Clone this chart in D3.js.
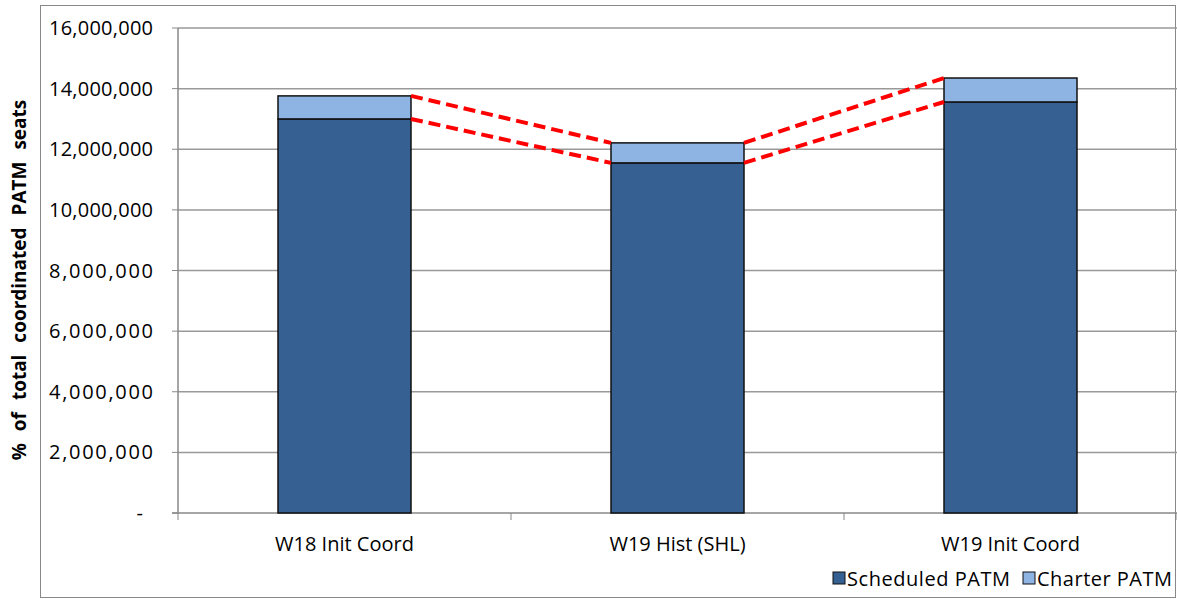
<!DOCTYPE html><html><head><meta charset="utf-8"><script src="https://cdn.jsdelivr.net/npm/d3@7"></script>
<style>body{margin:0;background:#fff}text{font-family:"Open Sans","Liberation Sans",sans-serif}</style></head><body>
<svg id="c" width="1177" height="599"></svg>
<script>
const categories=["W18 Init Coord","W19 Hist (SHL)","W19 Init Coord"];
const scheduled=[13000000,11550000,13560000];
const charter=[760000,660000,790000];
const yTicks=[0,2000000,4000000,6000000,8000000,10000000,12000000,14000000,16000000];
const seriesNames=["Scheduled PATM","Charter PATM"];
const colors=["#366092","#8eb4e3"];
const svg=d3.select("#c");
const L=178,R=1177,T=28,B=513;
svg.append("rect").attr("x",40.5).attr("y",5.5).attr("width",1135).attr("height",592).attr("fill","none").attr("stroke","#888");
const y=d3.scaleLinear().domain([0,16000000]).range([B,T]);
const fmt=d3.format(",");
yTicks.forEach(t=>{
 svg.append("line").attr("x1",t?L:L-6).attr("x2",R).attr("y1",y(t)).attr("y2",y(t)).attr("stroke",t?"#999":"#888").attr("stroke-width",1.5);
 svg.append("line").attr("x1",L-6).attr("x2",L).attr("y1",y(t)).attr("y2",y(t)).attr("stroke","#888");
 svg.append("text").attr("x",t?153:143).attr("y",y(t)+7).attr("text-anchor","end").attr("font-size",20).attr("textLength",t?104:null).text(t?fmt(t):"-");
});
svg.append("line").attr("x1",L).attr("x2",L).attr("y1",T).attr("y2",B).attr("stroke","#888").attr("stroke-width",1.5);
const step=(R-L)/3;
[0,1,2,3].forEach(i=>svg.append("line").attr("x1",L+i*step).attr("x2",L+i*step).attr("y1",B).attr("y2",B+7).attr("stroke","#888"));
categories.forEach((c,i)=>{
 const cx=L+step*(i+0.5), w=133;
 svg.append("rect").attr("x",cx-w/2).attr("width",w).attr("y",y(scheduled[i])).attr("height",B-y(scheduled[i])).attr("fill",colors[0]).attr("stroke","#111").attr("stroke-width",1.5);
 svg.append("rect").attr("x",cx-w/2).attr("width",w).attr("y",y(scheduled[i]+charter[i])).attr("height",y(scheduled[i])-y(scheduled[i]+charter[i])).attr("fill",colors[1]).attr("stroke","#111").attr("stroke-width",1.5);
 svg.append("text").attr("x",cx).attr("y",551).attr("text-anchor","middle").attr("font-size",20).text(c);
});
for(let i=0;i<2;i++){
 const x1=L+step*(i+0.5)+66.5,x2=L+step*(i+1.5)-66.5;
 [[scheduled[i]+charter[i],scheduled[i+1]+charter[i+1]],[scheduled[i],scheduled[i+1]]].forEach(([a,b])=>
  svg.append("line").attr("x1",x1).attr("x2",x2).attr("y1",y(a)).attr("y2",y(b)).attr("stroke","#f00").attr("stroke-width",4).attr("stroke-dasharray","12,6"));
}
svg.append("text").attr("transform","translate(26,280) rotate(-90)").attr("text-anchor","middle").attr("font-size",19).attr("font-weight","bold").attr("word-spacing",7).text("% of total coordinated PATM seats");
const lg=[[833,1010],[1023,1172]];
lg.forEach(([lx,ex],i)=>{
 svg.append("rect").attr("x",lx).attr("y",572).attr("width",12).attr("height",12).attr("fill",colors[i]).attr("stroke","#111");
 svg.append("text").attr("x",lx+14).attr("y",586).attr("font-size",20).attr("textLength",ex-lx-14).text(seriesNames[i]);
});
</script></body></html>
